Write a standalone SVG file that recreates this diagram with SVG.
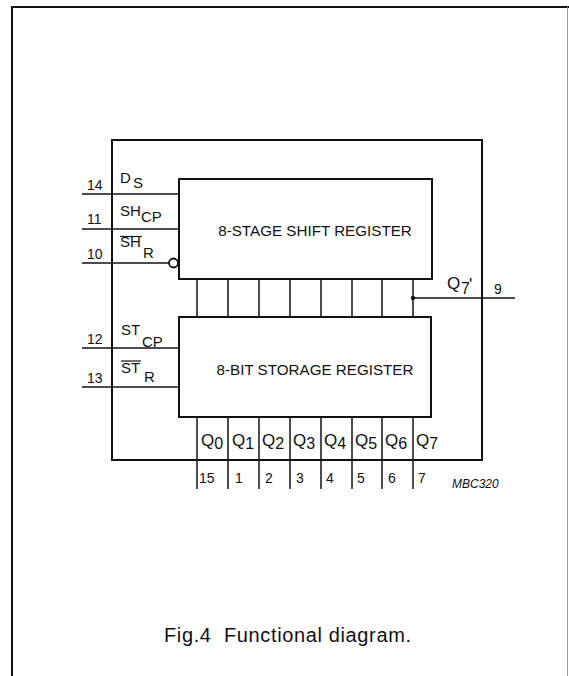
<svg xmlns="http://www.w3.org/2000/svg" width="569" height="676" viewBox="0 0 569 676">
<style>
text{font-family:"Liberation Sans",Arial,Helvetica,sans-serif;fill:#111}
.box{fill:none;stroke:#111;stroke-width:2}
.ln{stroke:#111;stroke-width:1.5;fill:none}
.pin{font-size:14px}
.lbl{font-size:15px}
.big{font-size:15.2px}
.q{font-size:17px}
.qs{font-size:16px}
</style>
<g id="page-frame">
<path d="M12 676 V7 H569" fill="none" stroke="#111" stroke-width="2"/>
<line x1="567.5" y1="7" x2="567.5" y2="676" stroke="#999" stroke-width="1"/>
</g>
<g id="ic">
<rect class="box" x="112" y="140" width="370" height="320"/>
</g>
<g id="shift-register">
<rect class="box" x="179" y="179" width="253" height="100"/>
<text class="big" x="315" y="236" text-anchor="middle">8-STAGE SHIFT REGISTER</text>
</g>
<g id="storage-register">
<rect class="box" x="179" y="317" width="252" height="100"/>
<text class="big" x="315" y="375" text-anchor="middle">8-BIT STORAGE REGISTER</text>
</g>
<g id="connectors">
<line class="ln" x1="82" y1="194" x2="179" y2="194"/>
<line class="ln" x1="82" y1="229" x2="179" y2="229"/>
<line class="ln" x1="82" y1="263" x2="169" y2="263"/>
<circle cx="173.5" cy="263" r="4.5" fill="#fff" stroke="#111" stroke-width="1.8"/>
<line class="ln" x1="82" y1="348" x2="179" y2="348"/>
<line class="ln" x1="82" y1="387" x2="179" y2="387"/>
<g class="ln">
<line x1="197" y1="279" x2="197" y2="317"/>
<line x1="228" y1="279" x2="228" y2="317"/>
<line x1="259" y1="279" x2="259" y2="317"/>
<line x1="290" y1="279" x2="290" y2="317"/>
<line x1="321" y1="279" x2="321" y2="317"/>
<line x1="352" y1="279" x2="352" y2="317"/>
<line x1="382" y1="279" x2="382" y2="317"/>
<line x1="413" y1="279" x2="413" y2="317"/>
<line x1="197" y1="417" x2="197" y2="489"/>
<line x1="228" y1="417" x2="228" y2="489"/>
<line x1="259" y1="417" x2="259" y2="489"/>
<line x1="290" y1="417" x2="290" y2="489"/>
<line x1="321" y1="417" x2="321" y2="489"/>
<line x1="352" y1="417" x2="352" y2="489"/>
<line x1="382" y1="417" x2="382" y2="489"/>
<line x1="413" y1="417" x2="413" y2="489"/>
</g>
<line class="ln" x1="413" y1="298" x2="515" y2="298"/>
<circle cx="413" cy="298" r="2.2" fill="#111"/>
</g>
<g id="pin-labels">
<text class="pin" x="87" y="190">14</text>
<text class="pin" x="87" y="224">11</text>
<text class="pin" x="87" y="259">10</text>
<text class="pin" x="87" y="344">12</text>
<text class="pin" x="87" y="383">13</text>
<text class="lbl" x="120" y="183">D<tspan x="133" y="188">S</tspan></text>
<text class="lbl" x="120" y="216">SH<tspan x="141" y="222">CP</tspan></text>
<text class="lbl" x="120" y="247">SH<tspan x="143" y="258">R</tspan></text>
<line x1="120" y1="236.5" x2="142" y2="236.5" stroke="#111" stroke-width="1.2"/>
<text class="lbl" x="121" y="335">ST<tspan x="142" y="347">CP</tspan></text>
<text class="lbl" x="121" y="373">ST<tspan x="144" y="382">R</tspan></text>
<line x1="121" y1="361" x2="141" y2="361" stroke="#111" stroke-width="1.2"/>
<text class="q" x="447" y="289">Q<tspan class="qs" x="461" y="294">7</tspan><tspan x="469" y="290">'</tspan></text>
<text class="pin" x="494" y="294">9</text>
</g>
<g id="outputs">
<text class="q" x="201" y="446">Q<tspan class="qs" y="449">0</tspan></text>
<text class="q" x="232" y="446">Q<tspan class="qs" y="449">1</tspan></text>
<text class="q" x="262" y="446">Q<tspan class="qs" y="449">2</tspan></text>
<text class="q" x="293" y="446">Q<tspan class="qs" y="449">3</tspan></text>
<text class="q" x="324" y="446">Q<tspan class="qs" y="449">4</tspan></text>
<text class="q" x="355" y="446">Q<tspan class="qs" y="449">5</tspan></text>
<text class="q" x="385" y="446">Q<tspan class="qs" y="449">6</tspan></text>
<text class="q" x="416" y="446">Q<tspan class="qs" y="449">7</tspan></text>
<text class="pin" x="199" y="483">15</text>
<text class="pin" x="235" y="483">1</text>
<text class="pin" x="265" y="483">2</text>
<text class="pin" x="296" y="483">3</text>
<text class="pin" x="326" y="483">4</text>
<text class="pin" x="357" y="483">5</text>
<text class="pin" x="388" y="483">6</text>
<text class="pin" x="418" y="483">7</text>
<text x="452" y="488" font-size="12" font-style="italic">MBC320</text>
</g>
<g id="caption">
<text x="164" y="642" font-size="20" textLength="247" xml:space="preserve">Fig.4  Functional diagram.</text>
</g>
</svg>
